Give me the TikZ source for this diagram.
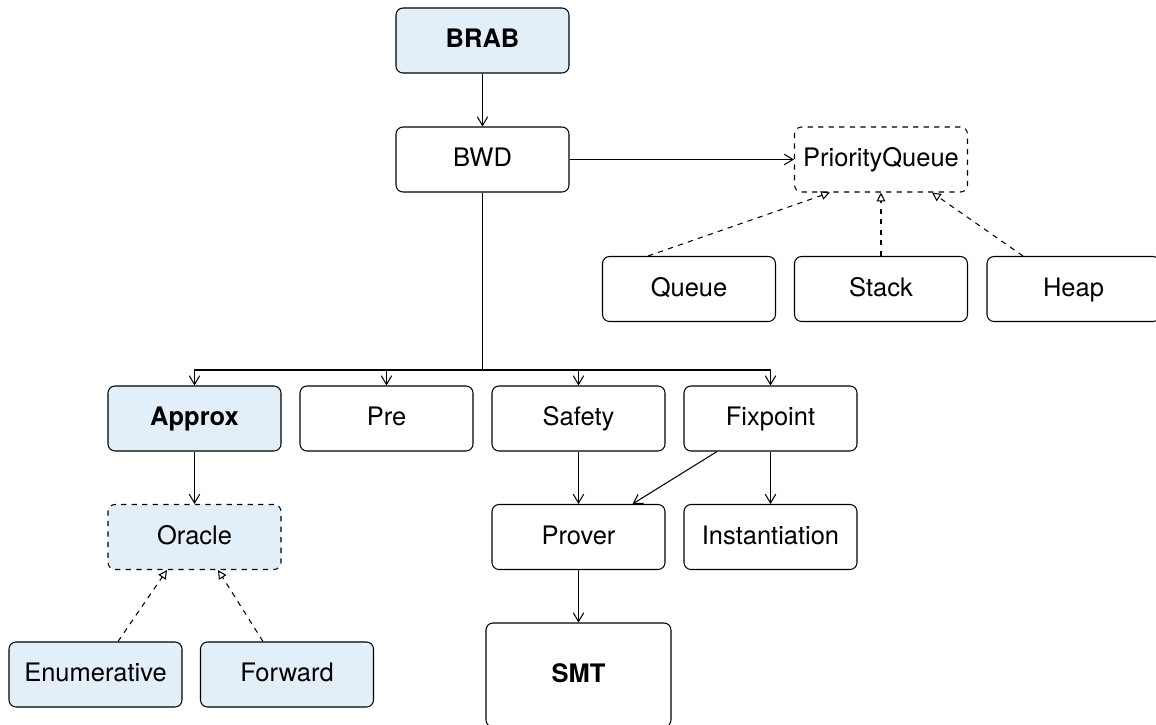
\documentclass[tikz,border=0pt]{standalone}
\usepackage{fontspec}
\setmainfont{TeX Gyre Heros}
\usetikzlibrary{arrows.meta}
\definecolor{modblue}{RGB}{226,238,248}

\begin{document}
\begin{tikzpicture}[>={Straight Barb[length=5pt,width=6pt]},
  box/.style={draw, rounded corners=4pt, minimum width=3.46cm, minimum height=1.3cm, inner sep=0pt,
    text height=0.8em, text depth=0em, font=\fontsize{14.5}{16}\selectfont},
  mod/.style={box, fill=modblue},
  iface/.style={box, dashed},
  impl/.style={dashed, -{Triangle[open,length=5pt,width=5pt]}},
  line width=0.6pt]

\useasboundingbox (0,0) rectangle (23.12,-14.48);

\node[mod] (brab) at (9.65,-0.81) {\textbf{BRAB}};
\node[box] (bwd) at (9.65,-3.19) {BWD};
\node[iface] (pq) at (17.62,-3.19) {PriorityQueue};

\node[box] (queue) at (13.78,-5.78) {Queue};
\node[box] (stack) at (17.62,-5.78) {Stack};
\node[box] (heap) at (21.47,-5.78) {Heap};

\node[mod] (approx) at (3.89,-8.37) {\textbf{Approx}};
\node[box] (pre) at (7.73,-8.37) {Pre};
\node[box] (safety) at (11.57,-8.37) {Safety};
\node[box] (fixpoint) at (15.41,-8.37) {Fixpoint};

\node[mod,dashed] (oracle) at (3.89,-10.74) {Oracle};
\node[box] (prover) at (11.57,-10.74) {Prover};
\node[box] (inst) at (15.41,-10.74) {Instantiation};

\node[mod] (enum) at (1.91,-13.49) {Enumerative};
\node[mod] (fwd) at (5.74,-13.49) {Forward};
\node[box, minimum width=3.7cm, minimum height=2.08cm] (smt) at (11.57,-13.5) {\textbf{SMT}};

\coordinate (bus) at (9.65,-7.4);

\draw[->] (brab) -- (bwd);
\draw[->] (bwd) -- (pq);
\draw (bwd) -- (bus);
\draw[->] (bus) -| (approx);
\draw[->] (bus) -| (pre);
\draw[->] (bus) -| (safety);
\draw[->] (bus) -| (fixpoint);

\draw[impl] (queue.north) ++(-0.82,0) -- ([xshift=-1.02cm]pq.south);
\draw[impl] (stack) -- (pq);
\draw[impl] (heap.north) ++(-1.01,0) -- ([xshift=1.02cm]pq.south);

\draw[->] (approx) -- (oracle);
\draw[impl] (enum.north) ++(0.45,0) -- ([xshift=-0.55cm]oracle.south);
\draw[impl] (fwd.north) ++(-0.48,0) -- ([xshift=0.47cm]oracle.south);

\draw[->] (safety) -- (prover);
\draw[->] ([xshift=-1.07cm]fixpoint.south) -- ([xshift=1.08cm]prover.north);
\draw[->] (fixpoint) -- (inst);
\draw[->] (prover) -- (smt);

\end{tikzpicture}
\end{document}
